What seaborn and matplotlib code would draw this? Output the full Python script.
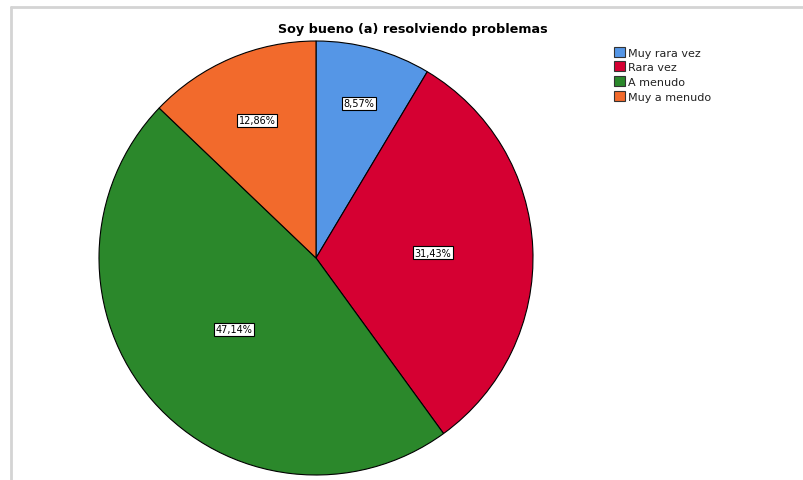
import numpy as np
import matplotlib
matplotlib.use("Agg")
import matplotlib.pyplot as plt
from matplotlib.lines import Line2D
from matplotlib.patches import Patch
import seaborn as sns

# Data (counts out of 70 respondents)
categories = ["Muy rara vez", "Rara vez", "A menudo", "Muy a menudo"]
counts = [6, 22, 33, 9]
colors = ["#5596e6", "#d50032", "#2b882b", "#f26a2c"]
# radial position of each percentage label (fraction of radius)
label_dist = [0.74, 0.54, 0.50, 0.69]
title = "Soy bueno (a) resolviendo problemas"

sns.set_theme(style="white")
plt.rcParams['font.family'] = ['DejaVu Sans']
plt.rcParams['text.color'] = 'black'

fig = plt.figure(figsize=(8.04, 4.81), dpi=100)

# pie centre at (316, 259) px, radius ~217 px
R = 217
cx, cy = 316, 259
ax = fig.add_axes([(cx - R) / 804, (481 - cy - R) / 481, 2 * R / 804, 2 * R / 481])

total = sum(counts)
wedges, _ = ax.pie(counts, colors=colors, startangle=90, counterclock=False,
                   radius=1, wedgeprops=dict(edgecolor="black", linewidth=0.8))
ax.set_xlim(-1, 1)
ax.set_ylim(-1, 1)
ax.set_aspect("equal")
ax.axis("off")

# percentage labels in white boxes
for w, c, d in zip(wedges, counts, label_dist):
    ang = np.deg2rad((w.theta1 + w.theta2) / 2)
    pct = f"{c / total * 100:.2f}%".replace(".", ",")
    ax.text(d * np.cos(ang), d * np.sin(ang), pct, ha="center", va="center",
            fontsize=7, color="black",
            bbox=dict(boxstyle="square,pad=0.15", facecolor="white",
                      edgecolor="black", linewidth=0.8))

fig.text(413 / 804, 1 - 30 / 481, title, ha="center", va="center",
         fontsize=9.2, fontweight="bold", color="black")

handles = [Patch(facecolor=col, edgecolor="#333333", linewidth=0.8) for col in colors]
fig.legend(handles, categories, loc="upper left",
           bbox_to_anchor=(606 / 804, 1 - 40 / 481), frameon=False,
           fontsize=8, handlelength=1.0, handleheight=1.0, handletextpad=0.3,
           labelspacing=0.35, borderpad=0.2, labelcolor="#222222")

# light gray frame lines at top and left
fig.add_artist(Line2D([11 / 804, 1], [1 - 8 / 481, 1 - 8 / 481],
                      transform=fig.transFigure, color="#d4d4d4", linewidth=2))
fig.add_artist(Line2D([11 / 804, 11 / 804], [0, 1 - 8 / 481],
                      transform=fig.transFigure, color="#d4d4d4", linewidth=2))

fig.savefig("out.png", dpi=100, facecolor="white")
